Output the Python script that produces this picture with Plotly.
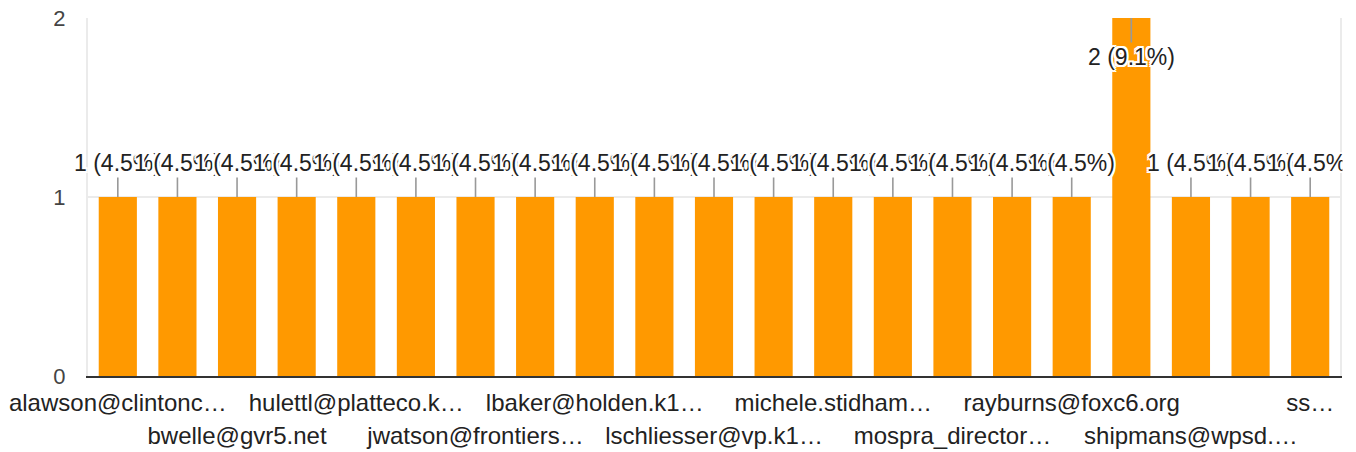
import plotly.graph_objects as go

# Respondent labels as shown under the axis ("" = label not displayed on the chart)
respondents = [
    "alawson@clintonc…", "", "bwelle@gvr5.net", "", "hulettl@platteco.k…", "",
    "jwatson@frontiers…", "", "lbaker@holden.k1…", "", "lschliesser@vp.k1…", "",
    "michele.stidham…", "", "mospra_director…", "", "rayburns@foxc6.org", "",
    "shipmans@wpsd.…", "", "ss…",
]
counts = [1, 1, 1, 1, 1, 1, 1, 1, 1, 1, 1, 1, 1, 1, 1, 1, 1, 2, 1, 1, 1]
y_ticks = [0, 1, 2]

total = sum(counts)
positions = list(range(len(counts)))

BAR = "#ff9900"
FONT = "Liberation Sans, Arial, sans-serif"
HALO = ("-2px -2px 0 #fff, 2px -2px 0 #fff, -2px 2px 0 #fff, 2px 2px 0 #fff, "
        "0 2px 0 #fff, 2px 0 0 #fff, 0 -2px 0 #fff, -2px 0 0 #fff")

fig = go.Figure()
fig.add_trace(go.Bar(
    x=positions, y=counts, width=0.64,
    marker=dict(color=BAR, line=dict(width=0)),
    hoverinfo="skip",
))
# empty helper trace so the second (label-row) axis is drawn
fig.add_trace(go.Scatter(x=[], y=[], xaxis="x2", yaxis="y", hoverinfo="skip"))

# tick labels: shown ones alternate between two rows
row1_vals, row1_text, row2_vals, row2_text = [], [], [], []
row = 0
for p, lab in zip(positions, respondents):
    if lab:
        if row == 0:
            row1_vals.append(p)
            row1_text.append(lab)
        else:
            row2_vals.append(p)
            row2_text.append(lab)
        row = 1 - row

annotations = []
ymax = max(y_ticks)
for p, c in zip(positions, counts):
    txt = f"{c} ({c / total * 100:.1f}%)"
    inside = c >= ymax
    annotations.append(dict(
        x=p, y=c, xref="x", yref="y", text=txt,
        showarrow=True, arrowhead=0, arrowwidth=1.6, arrowcolor="#999999",
        ax=0, ay=39 if inside else -34, standoff=0,
        font=dict(family=FONT, size=23, color="#222222", shadow=HALO),
    ))

# clip overflow of the last label at the right edge of the chart area
annotations.append(dict(
    x=1, xref="paper", xanchor="left", xshift=2,
    y=1, yref="y", yanchor="bottom", yshift=20,
    text=" ", showarrow=False, width=20, height=30, bgcolor="#ffffff",
))

xrange = [-0.5, len(counts) - 0.5]
tickfont_x = dict(family=FONT, size=24, color="#222222")

fig.update_layout(
    width=1356, height=452,
    margin=dict(l=80, r=24, t=10, b=84),
    paper_bgcolor="#ffffff", plot_bgcolor="#ffffff",
    showlegend=False, bargap=0.36,
    annotations=annotations,
    font=dict(family=FONT),
    xaxis=dict(
        range=xrange, tickmode="array", tickvals=row1_vals, ticktext=row1_text,
        tickangle=0, tickfont=tickfont_x, ticklabeloverflow="allow",
        showgrid=False, ticks="", showline=True, linecolor="#333333", linewidth=2,
        ticklabelstandoff=4, automargin=False, fixedrange=True,
    ),
    xaxis2=dict(
        range=xrange, overlaying="x", anchor="y", side="bottom",
        tickmode="array", tickvals=row2_vals, ticktext=row2_text,
        tickangle=0, tickfont=tickfont_x, ticklabeloverflow="allow",
        showgrid=False, ticks="", showline=False, zeroline=False,
        ticklabelstandoff=43, automargin=False, fixedrange=True,
    ),
    yaxis=dict(
        range=[0, ymax], tickmode="array", tickvals=y_ticks,
        tickfont=dict(family=FONT, size=22, color="#444444"),
        ticklabeloverflow="allow",
        showgrid=True, gridcolor="#ebebeb", gridwidth=2,
        zeroline=False, showline=True, mirror=True, linecolor="#ebebeb", linewidth=2,
        ticks="", ticklabelstandoff=16, automargin=False, fixedrange=True,
    ),
)

fig.write_html("out.html")
